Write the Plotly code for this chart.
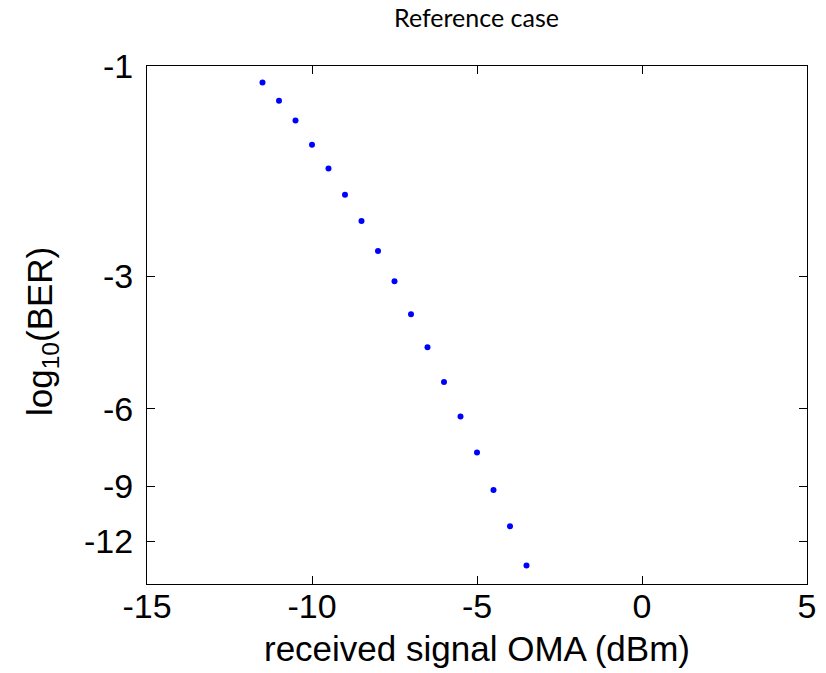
import plotly.graph_objects as go

# received signal OMA (dBm)
oma_dbm = [-11.5, -11.0, -10.5, -10.0, -9.5, -9.0, -8.5, -8.0, -7.5,
           -7.0, -6.5, -6.0, -5.5, -5.0, -4.5, -4.0, -3.5]
# log10(BER)
log10_ber = [-1.09, -1.20, -1.33, -1.51, -1.71, -1.96, -2.25, -2.63, -3.08,
             -3.66, -4.35, -5.22, -6.25, -7.54, -9.18, -11.09, -13.62]

y_tick_vals = [-1, -3, -6, -9, -12]
y_tick_text = ["-1", "-3", "-6", "-9", "-12"]
x_tick_vals = [-15, -10, -5, 0, 5]
x_tick_text = ["-15", "-10", "-5", "0", "5"]

# BER-scale axis: plotted as -log10(BER) on a reversed log axis
y_plot = [-v for v in log10_ber]
y_ticks_plot = [-v for v in y_tick_vals]

W, H = 826, 673
L, R, T, B = 147, 19, 66, 89
PW, PH = W - L - R, H - T - B

fig = go.Figure()
fig.add_trace(go.Scatter(
    x=oma_dbm, y=y_plot, mode="markers",
    marker=dict(color="#0000ff", size=6, symbol="circle"),
    showlegend=False,
))

tick_font = dict(family="Liberation Sans, Arial, sans-serif", size=34, color="black")
label_font = dict(family="Liberation Sans, Arial, sans-serif", size=35, color="black")

fig.update_layout(
    width=W, height=H,
    margin=dict(l=L, r=R, t=T, b=B),
    paper_bgcolor="white", plot_bgcolor="white",
    title=dict(text="Reference case", x=476.5 / W, xanchor="center",
               y=1 - 18.5 / H, yanchor="middle",
               font=dict(family="Lato, Open Sans, sans-serif", size=25, color="black")),
    xaxis=dict(
        range=[-15, 5], tickvals=x_tick_vals, ticktext=x_tick_text,
        ticks="inside", ticklen=8, automargin=False,
        tickwidth=1, tickcolor="black", showline=True, linecolor="black",
        linewidth=1, mirror="ticks", showgrid=False, zeroline=False,
        tickfont=tick_font, ticklabelstandoff=-8,
        title=dict(text="received signal OMA (dBm)", font=label_font, standoff=12),
    ),
    yaxis=dict(
        type="log", range=[1.17609, 0], tickvals=y_ticks_plot, ticktext=y_tick_text,
        ticks="inside", ticklen=8, tickwidth=1, tickcolor="black", automargin=False,
        showline=True, linecolor="black", linewidth=1, mirror="ticks",
        showgrid=False, zeroline=False, tickfont=tick_font,
        ticklabelstandoff=6,
    ),
    annotations=[dict(
        text="log<sub>10</sub>(BER)", textangle=-90, font=label_font,
        xref="paper", yref="paper",
        x=(42 - L) / PW, y=(H - B - 332) / PH,
        xanchor="center", yanchor="middle", showarrow=False,
    )],
)

fig.write_html("out.html", config={"displayModeBar": False},
               post_script="document.body.style.margin='0px';")
